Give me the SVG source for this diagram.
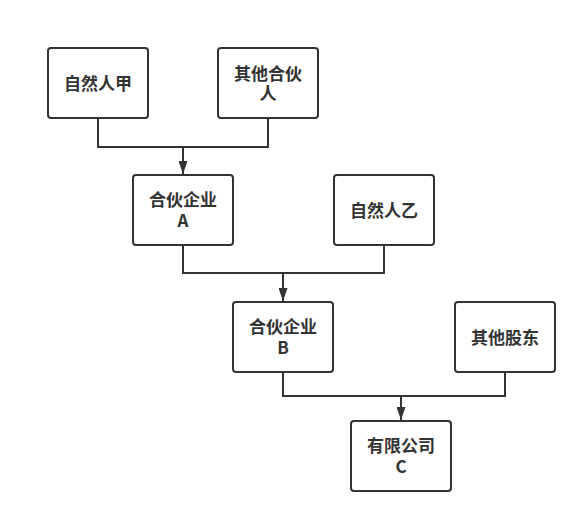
<svg xmlns="http://www.w3.org/2000/svg" width="587" height="523" viewBox="0 0 587 523">
<style>
.box{fill:#fff;stroke:#333;stroke-width:2}
.lbl{font-family:"Noto Sans CJK SC","Liberation Sans",sans-serif;font-size:17px;font-weight:bold;fill:#333;text-anchor:middle}
.edge{fill:none;stroke:#333;stroke-width:2}
</style>
<defs>
<marker id="arr" viewBox="0 0 13 9" refX="13" refY="4.5" markerWidth="13" markerHeight="9" markerUnits="userSpaceOnUse" orient="auto">
<path d="M0,0 L13,4.5 L0,9 Z" fill="#333"/>
</marker>
</defs>
<rect width="587" height="523" fill="#fff"/>
<g id="connectors">
<path class="edge" d="M98,118 V147 H268 V118"/>
<path class="edge" d="M183,147 V174" marker-end="url(#arr)"/>
<path class="edge" d="M183,245 V273 H384 V245"/>
<path class="edge" d="M283,273 V301" marker-end="url(#arr)"/>
<path class="edge" d="M283,372 V396 H505 V372"/>
<path class="edge" d="M401,396 V420" marker-end="url(#arr)"/>
</g>
<g id="n1"><rect class="box" x="48" y="48" width="100" height="70" rx="3"/><text class="lbl" x="98" y="90">自然人甲</text></g>
<g id="n2"><rect class="box" x="218" y="48" width="100" height="70" rx="3"/><text class="lbl" x="268" y="80">其他合伙</text><text class="lbl" x="268" y="100">人</text></g>
<g id="nA"><rect class="box" x="133" y="175" width="100" height="70" rx="3"/><text class="lbl" x="183" y="206">合伙企业</text><text class="lbl" x="183" y="227">A</text></g>
<g id="n3"><rect class="box" x="334" y="175" width="100" height="70" rx="3"/><text class="lbl" x="384" y="217">自然人乙</text></g>
<g id="nB"><rect class="box" x="233" y="302" width="100" height="70" rx="3"/><text class="lbl" x="283" y="333">合伙企业</text><text class="lbl" x="283" y="354">B</text></g>
<g id="n4"><rect class="box" x="455" y="302" width="100" height="70" rx="3"/><text class="lbl" x="505" y="344">其他股东</text></g>
<g id="nC"><rect class="box" x="351" y="421" width="100" height="70" rx="3"/><text class="lbl" x="401" y="452">有限公司</text><text class="lbl" x="401" y="473">C</text></g>
</svg>
